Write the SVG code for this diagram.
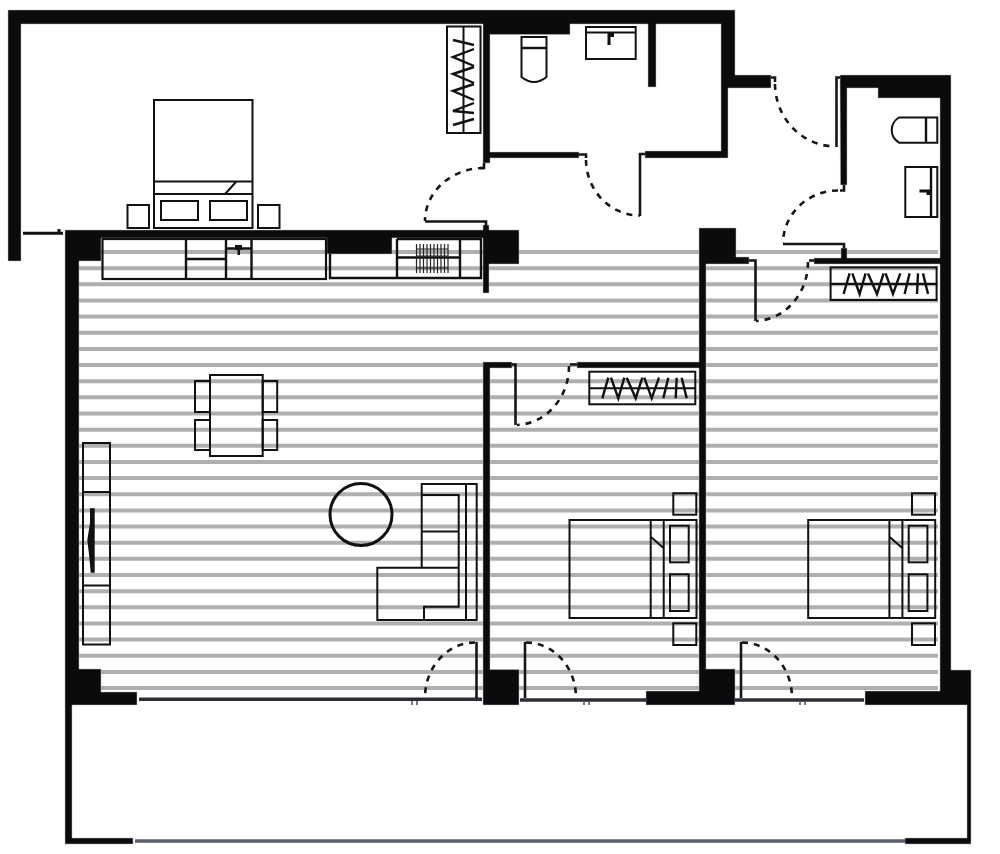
<svg xmlns="http://www.w3.org/2000/svg" width="1000" height="854" viewBox="0 0 1000 854">
<style>
.wall{fill:#0a0b0c;stroke:#b8b8b8;stroke-width:.5}
.hatch{fill:none;stroke:#afafaf;stroke-width:4}
.f{fill:none;stroke:#111;stroke-width:2}
.t{fill:none;stroke:#111;stroke-width:2.4}
.blk{fill:#111}
.leaf{fill:none;stroke:#14161a;stroke-width:2.6}
.arc{fill:none;stroke:#14161a;stroke-width:2.6;stroke-dasharray:6 6}
.glass{fill:none;stroke:#2b2e35;stroke-width:3.4}
</style>
<defs>
<g id="bedR">
<rect class="f" x="569.5" y="520" width="127" height="98"/>
<path class="f" d="M650.7 520V618M663.7 520V618M651 537L663.5 548"/>
<rect class="f" x="670" y="525.7" width="18.7" height="36.6"/>
<rect class="f" x="670" y="574.3" width="18.7" height="36.7"/>
<rect class="f" x="673.3" y="493.3" width="23" height="21.4"/>
<rect class="f" x="673.3" y="623.3" width="23" height="21.7"/>
</g>
<g id="wardrobeH">
<rect class="f" x="589.3" y="371.7" width="106" height="32.6"/>
<path class="f" d="M589.3 388.3H695.3"/>
<path class="t" d="M602.3 398.3L608.3 377.7M611 377.7L618.3 398.3L624.3 377.7M626.7 377.7L635.7 398.3L642.3 377.7M644.3 377.7L651.7 398.3L659 377.7M663.3 398.3L668.3 377.7M675.7 398.3L676.7 377.7M681.7 377.7L686.7 398.3"/>
</g>
</defs>
<rect width="1000" height="854" fill="#fff"/>
<g id="floor-hatch">
<path class="hatch" d="M79 252H699M79 268.15H699M79 284.3H699M79 300.45H699M79 316.6H699M79 332.75H699M79 348.9H699M79 365.05H699M79 381.2H699M79 397.35H699M79 413.5H699M79 429.65H699M79 445.8H699M79 461.95H699M79 478.1H699M79 494.25H699M79 510.4H699M79 526.55H699M79 542.7H699M79 558.85H699M79 575H699M79 591.15H699M79 607.3H699M79 623.45H699M79 639.6H699M79 655.75H699M79 671.9H699M79 688.05H699"/>
<path class="hatch" d="M706 252H938M706 268.15H938M706 284.3H938M706 300.45H938M706 316.6H938M706 332.75H938M706 348.9H938M706 365.05H938M706 381.2H938M706 397.35H938M706 413.5H938M706 429.65H938M706 445.8H938M706 461.95H938M706 478.1H938M706 494.25H938M706 510.4H938M706 526.55H938M706 542.7H938M706 558.85H938M706 575H938M706 591.15H938M706 607.3H938M706 623.45H938M706 639.6H938M706 655.75H938M706 671.9H938M706 688.05H938"/>
</g>
<g id="walls">
<path class="wall" d="M8 10H735V75H771V88H728V158H645V151H721V24H656V87H648V24H570V34.500H490V152H579V158H490V163H483V24H21V261H8Z"/>
<path class="wall" d="M65 230H483V225H489V230H519V264H489V293H483V238H392V254H327V238H101V261H79V669H101V692H137V705H72V838H133V844H65Z"/>
<path class="wall" d="M483 362H512V368H490V669.500H519V705H483Z"/>
<path class="wall" d="M577 362H699V228H736V257H749V264H706V669H735V705H646V691H699V368H577Z"/>
<path class="wall" d="M840 75H951V670H971V844H905V838H967V705H865V691H940V264H814V258H841V248H847V258H940V98H878V88H847V185H840.500Z"/>
</g>
<g id="glazing">
<path d="M135 841H905" fill="none" stroke="#5a606b" stroke-width="3.600"/>
<path class="glass" d="M139 699.300H482M520 700H646M735 700H864"/>
<path d="M412 701V705M417 701V705M584 702V705M589 702V705M800 702V705M805 702V705" stroke="#222" stroke-width="1.200" fill="none"/>
<path d="M23 233.300H63M59 229V234" fill="none" stroke="#111" stroke-width="3"/>
</g>
<g id="doors">
<path class="leaf" d="M425 221.500H486V226"/>
<path class="arc" d="M484 168A59 53 0 0 0 425 221"/>
<path d="M484 163V168H480" class="leaf"/>
<path class="leaf" d="M579 154.500H586V158M645 154H640V216"/>
<path class="arc" d="M586 160A54 56 0 0 0 640 215.500"/>
<path class="leaf" d="M771 77.500H775V82M840 77.500H836.500V147"/>
<path class="arc" d="M775 84A61 63 0 0 0 835 146.500"/>
<path class="leaf" d="M844 185V190.500H840M783 244H844V248"/>
<path class="arc" d="M838 190.500A55 53 0 0 0 783 243"/>
<path class="leaf" d="M749 260.500H755.500V321M814 260.500H809"/>
<path class="arc" d="M808 262A54 59 0 0 1 756 321"/>
<path class="leaf" d="M512 364.500H515.500V425M577 364.500H570"/>
<path class="arc" d="M569 366A54 59 0 0 1 517 425"/>
<path class="leaf" d="M476.500 642V698"/>
<path class="arc" d="M475 642.500A50 55 0 0 0 425 698"/>
<path class="leaf" d="M525 642V698"/>
<path class="arc" d="M526 642.500A50 55 0 0 1 576 698"/>
<path class="leaf" d="M741 642V698"/>
<path class="arc" d="M742 642.500A50 55 0 0 1 792 698"/>
</g>
<g id="bed-1">
<rect class="f" x="154" y="100" width="98.500" height="128"/>
<path class="f" d="M154 181.500H252.500M154 194H252.500M225 194L236 182"/>
<rect class="f" x="161" y="201" width="37" height="19"/>
<rect class="f" x="210" y="201" width="37" height="19"/>
<rect class="f" x="127.500" y="205" width="21.500" height="23"/>
<rect class="f" x="258" y="205" width="21.500" height="23"/>
</g>
<g id="kitchen">
<rect x="102.500" y="239" width="223.500" height="40" fill="none" stroke="#111" stroke-width="2.200"/>
<path class="t" d="M186 239V279M226 239V279M251.500 239V279M186 259H226M226 248.500H251.500"/>
<path class="blk" d="M235 245H242V250H240V255H237.500V250H235Z"/>
<path class="t" d="M397 239V278M460 239V278M397 257.500H460M330 254V278H481V239H397" />
<path d="M416.500 244V273M420 244V273M423.500 244V273M427 244V273M430.500 244V273M434 244V273M437.500 244V273M441 244V273M444.500 244V273M448 244V273M416 249H448.500M416 256H448.500M416 268H448.500" fill="none" stroke="#222" stroke-width="1.200"/>
</g>
<g id="wardrobe-top">
<rect class="f" x="447" y="26.500" width="33.500" height="106.500"/>
<path class="f" d="M463.500 26.500V133"/>
<path class="t" d="M453 40L474 45M474 49L453 57L474 66M474 67L453 74L474 83M474 84L453 91L474 100M474 103L453 111L474 113M474 119L453 125"/>
</g>
<g id="toilet-1">
<path class="f" d="M521.500 37H546.500V77Q534 87 521.500 77Z"/>
<path class="t" d="M521.500 48H546.500"/>
</g>
<g id="sink-1">
<rect class="f" x="586" y="27" width="49.700" height="32"/>
<path class="f" d="M586 32.500H635.700"/>
<path class="blk" d="M607.500 33H614V37H610.500V45H607.500Z"/>
</g>
<g id="toilet-2">
<path class="f" d="M937.300 117.500H899Q891.700 122 891.700 130Q891.700 138 899 142.700H937.300Z"/>
<path class="t" d="M926 117.500V142.700"/>
</g>
<g id="sink-2">
<rect class="f" x="905.300" y="167" width="32" height="50"/>
<path class="t" d="M931 167V217"/>
<path class="blk" d="M919.500 189.500H931V195H926.500V192.500H919.500Z"/>
</g>
<g id="wardrobe-mid"><use href="#wardrobeH"/></g>
<g id="wardrobe-right"><use href="#wardrobeH" transform="translate(241.300 -104.300)"/></g>
<g id="dining">
<rect class="f" x="210" y="375" width="52.700" height="81"/>
<rect class="f" x="195" y="381" width="15" height="31"/>
<rect class="f" x="195" y="420" width="15" height="30"/>
<rect class="f" x="262.700" y="381" width="14.500" height="31"/>
<rect class="f" x="262.700" y="420" width="14.500" height="30"/>
</g>
<g id="tv-unit">
<rect class="f" x="83" y="443" width="27" height="201.500"/>
<path class="f" d="M83 492H110M83 585.500H110"/>
<path class="blk" d="M90 508.300H94.700V572.700H90.700L89.300 557L87.300 540L90 523Z"/>
</g>
<g id="coffee-table"><circle cx="361" cy="514.500" r="31" fill="none" stroke="#111" stroke-width="3"/></g>
<g id="sofa">
<path class="f" d="M421.700 567.700V484H476.700V620H377.300V567.700H458.700V495H421.700M421.700 531.500H458.700M466 484V620M458.700 567.700V606.700H424V620"/>
</g>
<g id="bed-2"><use href="#bedR"/></g>
<g id="bed-3"><use href="#bedR" transform="translate(238.700 0)"/></g>
</svg>
